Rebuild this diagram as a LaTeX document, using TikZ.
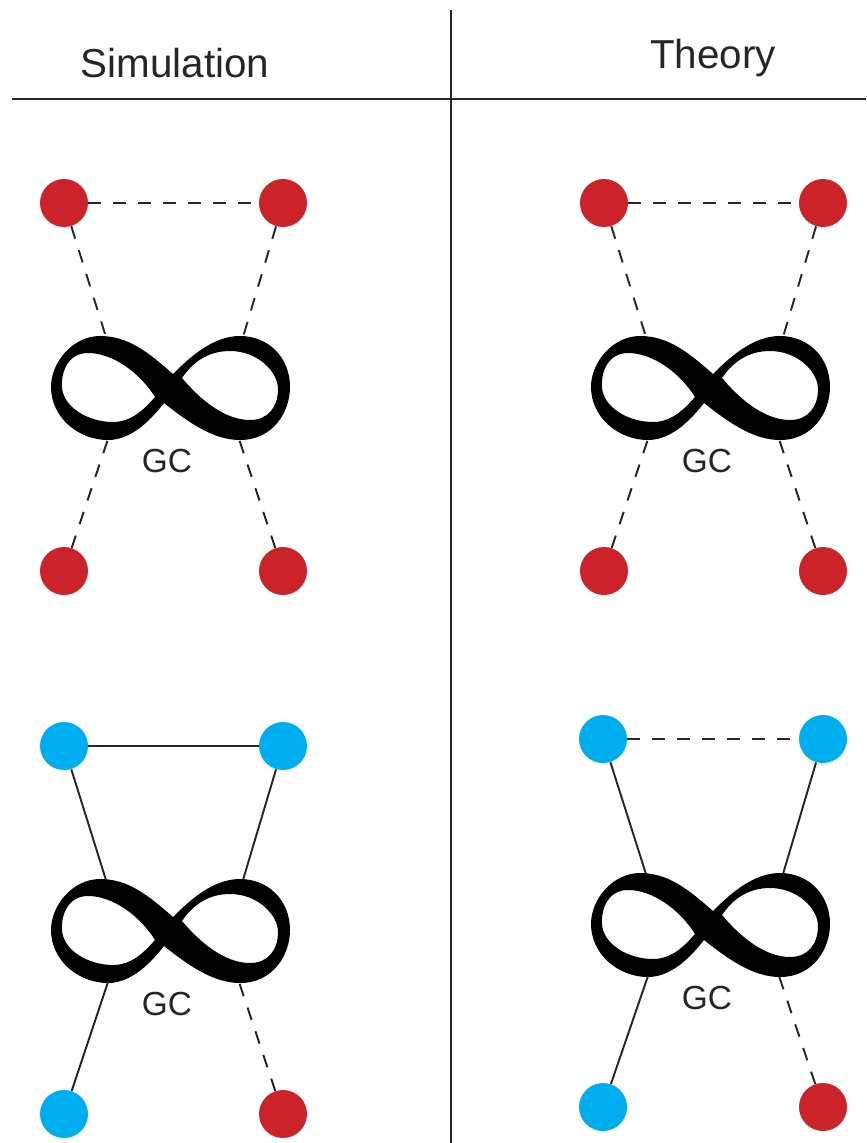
\documentclass[tikz,border=0pt]{standalone}
\usepackage{fontspec}
\setmainfont{Liberation Sans}
\definecolor{gcred}{HTML}{CC2229}
\definecolor{gcblue}{HTML}{00AEEF}
\definecolor{ink}{HTML}{262626}
\tikzset{
  rule/.style={draw=ink,line width=0.8pt},
  head/.style={anchor=base,text=ink,font=\fontsize{23pt}{26pt}\selectfont},
  red dot/.style={circle,fill=gcred,minimum size=0.96cm,inner sep=0pt},
  blue dot/.style={circle,fill=gcblue,minimum size=0.96cm,inner sep=0pt},
  link/.style={draw=ink,line width=1.1pt},
  weak link/.style={link,dash pattern=on 7.4pt off 6.8pt},
  gcloop/.pic={
    % outer outline, then the two holes
    \fill[black,even odd rule]
      (5,-13) .. controls (-20,-35) and (-40,-51) .. (-68,-51)
        .. controls (-95,-51) and (-117,-25) .. (-117,0)
        .. controls (-117,30) and (-90,53) .. (-60,53)
        .. controls (-35,53) and (-15,30) .. (-4,16)
        .. controls (20,35) and (45,53) .. (72,53)
        .. controls (105,53) and (122,25) .. (122,0)
        .. controls (122,-30) and (100,-51) .. (72,-51)
        .. controls (45,-51) and (22,-30) .. (5,-13) -- cycle
      (-13,10) .. controls (-28,-14) and (-55,-34) .. (-80,-34)
        .. controls (-100,-34) and (-107,-15) .. (-106,0)
        .. controls (-105,20) and (-80,35) .. (-55,35)
        .. controls (-35,35) and (-22,20) .. (-13,10) -- cycle
      (14,-9) .. controls (25,-25) and (40,-36) .. (62,-36)
        .. controls (90,-36) and (110,-15) .. (110,2)
        .. controls (110,20) and (100,33) .. (82,33)
        .. controls (55,33) and (30,10) .. (14,-9) -- cycle;
    \coordinate (-nw) at (-62,-50);
    \coordinate (-ne) at (75,-50);
    \coordinate (-sw) at (-60,52);
    \coordinate (-se) at (71,52);
    \node[anchor=base,text=ink,font=\fontsize{19pt}{22pt}\selectfont] (-label) at (-1,85) {GC};
  }
}
\begin{document}
\begin{tikzpicture}[x=0.02cm,y=-0.02cm]
  \useasboundingbox (0,0) rectangle (866,1143);
  \draw[rule] (12,99) -- (866,99);
  \draw[rule] (451,10) -- (451,1143);
  \node[head] (simhead) at (175,77) {Simulation};
  \node[head] (theohead) at (713,68) {Theory};

  % simulation, all red
  \pic (sa) at (168,387) {gcloop};
  \node[red dot] (sa1) at (64,203) {};
  \node[red dot] (sa2) at (283,203) {};
  \node[red dot] (sa3) at (64,571) {};
  \node[red dot] (sa4) at (283,571) {};
  \draw[weak link] (sa1) -- (sa2);
  \draw[weak link] (sa1) -- (sa-nw);
  \draw[weak link] (sa2) -- (sa-ne);
  \draw[weak link] (sa3) -- (sa-sw);
  \draw[weak link] (sa4) -- (sa-se);

  % theory, all red
  \pic (ta) at (708,387) {gcloop};
  \node[red dot] (ta1) at (604,203) {};
  \node[red dot] (ta2) at (823,203) {};
  \node[red dot] (ta3) at (604,571) {};
  \node[red dot] (ta4) at (823,571) {};
  \draw[weak link] (ta1) -- (ta2);
  \draw[weak link] (ta1) -- (ta-nw);
  \draw[weak link] (ta2) -- (ta-ne);
  \draw[weak link] (ta3) -- (ta-sw);
  \draw[weak link] (ta4) -- (ta-se);

  % simulation, three blue
  \pic (sb) at (168,930) {gcloop};
  \node[blue dot] (sb1) at (64,746) {};
  \node[blue dot] (sb2) at (283,746) {};
  \node[blue dot] (sb3) at (64,1114) {};
  \node[red dot] (sb4) at (283,1114) {};
  \draw[link] (sb1) -- (sb2);
  \draw[link] (sb1) -- (sb-nw);
  \draw[link] (sb2) -- (sb-ne);
  \draw[link] (sb3) -- (sb-sw);
  \draw[weak link] (sb4) -- (sb-se);

  % theory, three blue
  \pic (tb) at (708,924) {gcloop};
  \node[blue dot] (tb1) at (603,739) {};
  \node[blue dot] (tb2) at (823,739) {};
  \node[blue dot] (tb3) at (603,1107) {};
  \node[red dot] (tb4) at (823,1107) {};
  \draw[weak link] (tb1) -- (tb2);
  \draw[link] (tb1) -- (tb-nw);
  \draw[link] (tb2) -- (tb-ne);
  \draw[link] (tb3) -- (tb-sw);
  \draw[weak link] (tb4) -- (tb-se);
\end{tikzpicture}
\end{document}
